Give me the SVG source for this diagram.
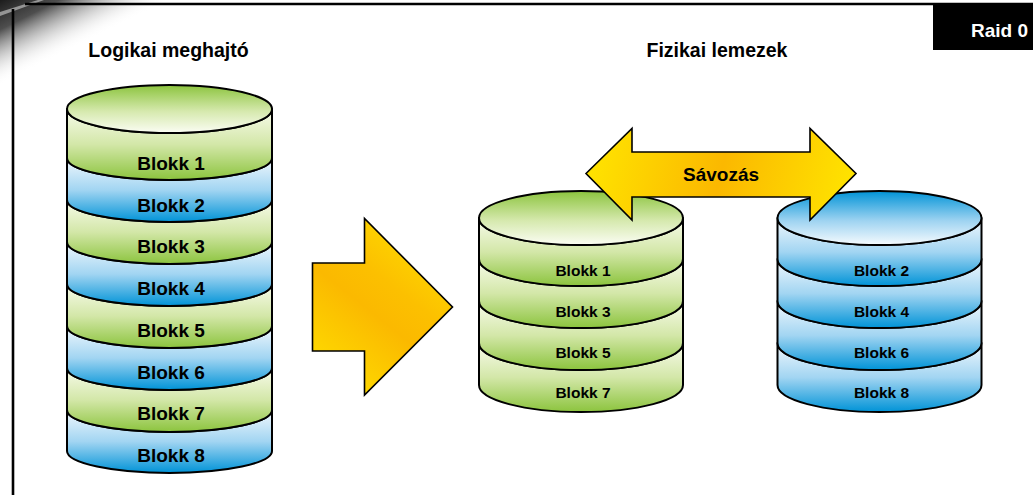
<svg xmlns="http://www.w3.org/2000/svg" width="1033" height="495" viewBox="0 0 1033 495">
<style>
.seg{stroke:#000;stroke-width:2;stroke-linejoin:round}
.g{fill:url(#gGreen)}
.b{fill:url(#gBlue)}
.lbl{font-family:"Liberation Sans",Arial,sans-serif;font-weight:bold;fill:#000;text-anchor:middle}
.big{font-size:19px}
.small{font-size:15.5px}
.title{font-family:"Liberation Sans",Arial,sans-serif;font-weight:bold;font-size:19.5px;fill:#000;text-anchor:middle}
.arrow{stroke:#000;stroke-width:1.6;stroke-linejoin:miter}
</style>
<defs>
<linearGradient id="gGreen" x1="0" y1="0" x2="0" y2="1">
<stop offset="0" stop-color="#f8fbec"/>
<stop offset="0.5" stop-color="#d3e7a8"/>
<stop offset="1" stop-color="#8cc43e"/>
</linearGradient>
<linearGradient id="gBlue" x1="0" y1="0" x2="0" y2="1">
<stop offset="0" stop-color="#f2f8fd"/>
<stop offset="0.5" stop-color="#a2d5f2"/>
<stop offset="1" stop-color="#0093d7"/>
</linearGradient>
<linearGradient id="gTopGreen" x1="0" y1="0" x2="0" y2="1">
<stop offset="0" stop-color="#8cc43e"/>
<stop offset="0.55" stop-color="#d6e9ae"/>
<stop offset="1" stop-color="#fbfdf4"/>
</linearGradient>
<linearGradient id="gTopBlue" x1="0" y1="0" x2="0" y2="1">
<stop offset="0" stop-color="#0093d7"/>
<stop offset="0.55" stop-color="#9ed3f1"/>
<stop offset="1" stop-color="#f6fbfe"/>
</linearGradient>
<linearGradient id="gArrow" gradientUnits="userSpaceOnUse" x1="312" y1="395" x2="453" y2="218">
<stop offset="0" stop-color="#ffe500"/>
<stop offset="0.45" stop-color="#fbb900"/>
<stop offset="0.6" stop-color="#fcc000"/>
<stop offset="1" stop-color="#ffe800"/>
</linearGradient>
<linearGradient id="gDbl" gradientUnits="userSpaceOnUse" x1="586" y1="140" x2="856" y2="205">
<stop offset="0" stop-color="#ffe600"/>
<stop offset="0.5" stop-color="#fbb800"/>
<stop offset="1" stop-color="#ffe600"/>
</linearGradient>
<linearGradient id="gShadow" gradientUnits="userSpaceOnUse" x1="0" y1="0" x2="34" y2="68">
<stop offset="0" stop-color="#1c1c1c"/>
<stop offset="0.35" stop-color="#3a3a3a" stop-opacity="0.9"/>
<stop offset="1" stop-color="#ffffff" stop-opacity="0"/>
</linearGradient>
</defs>
<rect width="1033" height="495" fill="#fff"/>
<g id="frame">
<path d="M0,0 H170 L0,85 Z" fill="url(#gShadow)"/>
<path d="M0,12 L38,0 L44,0 L0,16 Z" fill="#bdbdbd" opacity="0.7"/>
<line x1="25" y1="4" x2="1033" y2="4" stroke="#000" stroke-width="2.4"/>
<line x1="13" y1="9" x2="13" y2="495" stroke="#000" stroke-width="2.6"/>
</g>
<g id="raid-label">
<rect x="933" y="5" width="100" height="45" fill="#000"/>
<text x="1028" y="36.5" font-family="Liberation Sans,Arial,sans-serif" font-weight="bold" font-size="19px" fill="#fff" text-anchor="end">Raid 0</text>
</g>
<g id="titles">
<text class="title" x="168.5" y="56.5">Logikai meghajtó</text>
<text class="title" x="717" y="56.5" font-size="20.5px">Fizikai lemezek</text>
</g>
<g id="logical-drive">
<path class="seg b" d="M67,410 A102.5,22 0 0 0 272,410 L272,451 A102.5,22 0 0 1 67,451 Z"/>
<path class="seg g" d="M67,368 A102.5,22 0 0 0 272,368 L272,410 A102.5,22 0 0 1 67,410 Z"/>
<path class="seg b" d="M67,326 A102.5,22 0 0 0 272,326 L272,368 A102.5,22 0 0 1 67,368 Z"/>
<path class="seg g" d="M67,284 A102.5,22 0 0 0 272,284 L272,326 A102.5,22 0 0 1 67,326 Z"/>
<path class="seg b" d="M67,242 A102.5,22 0 0 0 272,242 L272,284 A102.5,22 0 0 1 67,284 Z"/>
<path class="seg g" d="M67,200 A102.5,22 0 0 0 272,200 L272,242 A102.5,22 0 0 1 67,242 Z"/>
<path class="seg b" d="M67,158 A102.5,22 0 0 0 272,158 L272,200 A102.5,22 0 0 1 67,200 Z"/>
<path class="seg g" d="M67,109 A102.5,24 0 0 0 272,109 L272,158 A102.5,22 0 0 1 67,158 Z"/>
<ellipse class="seg" cx="169.5" cy="109" rx="102.5" ry="24" fill="url(#gTopGreen)"/>
<text class="lbl big" x="171" y="170">Blokk 1</text>
<text class="lbl big" x="171" y="211.7">Blokk 2</text>
<text class="lbl big" x="171" y="253.4">Blokk 3</text>
<text class="lbl big" x="171" y="295.1">Blokk 4</text>
<text class="lbl big" x="171" y="336.8">Blokk 5</text>
<text class="lbl big" x="171" y="378.5">Blokk 6</text>
<text class="lbl big" x="171" y="420.2">Blokk 7</text>
<text class="lbl big" x="171" y="461.9">Blokk 8</text>
</g>
<g id="disk-1">
<path class="seg g" d="M479,343 A102,27 0 0 0 683,343 L683,385 A102,27 0 0 1 479,385 Z"/>
<path class="seg g" d="M479,301 A102,27 0 0 0 683,301 L683,343 A102,27 0 0 1 479,343 Z"/>
<path class="seg g" d="M479,259 A102,27 0 0 0 683,259 L683,301 A102,27 0 0 1 479,301 Z"/>
<path class="seg g" d="M479,218 A102,27 0 0 0 683,218 L683,259 A102,27 0 0 1 479,259 Z"/>
<ellipse class="seg" cx="581" cy="218" rx="102" ry="27" fill="url(#gTopGreen)"/>
<text class="lbl small" x="583" y="276">Blokk 1</text>
<text class="lbl small" x="583" y="316.8">Blokk 3</text>
<text class="lbl small" x="583" y="357.5">Blokk 5</text>
<text class="lbl small" x="583" y="398.3">Blokk 7</text>
</g>
<g id="disk-2">
<path class="seg b" d="M777.5,343 A102,27 0 0 0 981.5,343 L981.5,385 A102,27 0 0 1 777.5,385 Z"/>
<path class="seg b" d="M777.5,301 A102,27 0 0 0 981.5,301 L981.5,343 A102,27 0 0 1 777.5,343 Z"/>
<path class="seg b" d="M777.5,259 A102,27 0 0 0 981.5,259 L981.5,301 A102,27 0 0 1 777.5,301 Z"/>
<path class="seg b" d="M777.5,218 A102,27 0 0 0 981.5,218 L981.5,259 A102,27 0 0 1 777.5,259 Z"/>
<ellipse class="seg" cx="879.5" cy="218" rx="102" ry="27" fill="url(#gTopBlue)"/>
<text class="lbl small" x="881.5" y="276">Blokk 2</text>
<text class="lbl small" x="881.5" y="316.8">Blokk 4</text>
<text class="lbl small" x="881.5" y="357.5">Blokk 6</text>
<text class="lbl small" x="881.5" y="398.3">Blokk 8</text>
</g>
<g id="connectors">
<polygon class="arrow" fill="url(#gArrow)" points="312.5,263 364.5,263 364.5,218.5 452.5,307 364.5,395 364.5,351 312.5,351"/>
<g id="striping-arrow">
<polygon class="arrow" fill="url(#gDbl)" points="586,173.5 632,128.5 632,152 810,152 810,128.5 856,173.5 810,220 810,197 632,197 632,220"/>
<text class="lbl" x="721" y="181" font-size="19px">Sávozás</text>
</g>
</g>
</svg>
